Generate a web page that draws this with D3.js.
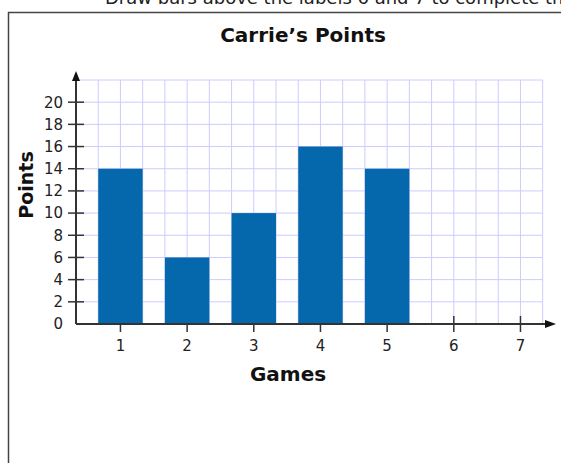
<!DOCTYPE html>
<html>
<head>
<meta charset="utf-8">
<script src="https://cdn.jsdelivr.net/npm/d3@7"></script>
<style>
  html, body { margin: 0; padding: 0; background: #fff; }
  svg { display: block; }
</style>
</head>
<body>
<script>
// Carrie's points per game (games 6 and 7 left blank for the student)
const games = [1, 2, 3, 4, 5, 6, 7];
const points = [14, 6, 10, 16, 14, null, null];
const yTicks = [2, 4, 6, 8, 10, 12, 14, 16, 18, 20];
const yLabels = [0, 2, 4, 6, 8, 10, 12, 14, 16, 18, 20];

const W = 561, H = 463;
const svg = d3.select("body").append("svg").attr("width", W).attr("height", H);
const font = "'DejaVu Sans', Verdana, sans-serif";
const axisColor = "#333";

// Instruction line above the frame (mostly scrolled out of view)
svg.append("text")
  .attr("x", 105).attr("y", 4)
  .attr("font-family", font).attr("font-size", 18).attr("fill", "#222")
  .text("Draw bars above the labels 6 and 7 to complete the graph.");

// Frame around the item
svg.append("rect")
  .attr("x", 8.5).attr("y", 12.5).attr("width", 600).attr("height", 500)
  .attr("fill", "none").attr("stroke", "#444").attr("stroke-width", 1.5);

// Scales: x works in grid columns (each game spans three columns)
const x = d3.scaleLinear().domain([0, 21]).range([76, 542.7]);
const y = d3.scaleLinear().domain([0, 22]).range([324, 80]);
const gameX = g => x(3 * g - 1);

// Grid
const grid = svg.append("g").attr("stroke", "#ccccff").attr("stroke-width", 1);
grid.selectAll("line.v").data(d3.range(1, 22)).join("line")
  .attr("x1", d => x(d)).attr("x2", d => x(d))
  .attr("y1", y(0)).attr("y2", y(22));
grid.selectAll("line.h").data(d3.range(2, 23, 2)).join("line")
  .attr("x1", x(0)).attr("x2", x(21))
  .attr("y1", d => y(d)).attr("y2", d => y(d));

// X ticks (cross the axis; bars sit over their upper half)
svg.append("g").selectAll("line").data(games).join("line")
  .attr("x1", d => gameX(d)).attr("x2", d => gameX(d))
  .attr("y1", y(0) - 8).attr("y2", y(0) + 8)
  .attr("stroke", axisColor).attr("stroke-width", 1.5);

// Bars
svg.append("g").selectAll("rect")
  .data(games.map((g, i) => ({ g, v: points[i] })).filter(d => d.v != null))
  .join("rect")
  .attr("x", d => x(3 * d.g - 2))
  .attr("width", x(2) - x(0))
  .attr("y", d => y(d.v))
  .attr("height", d => y(0) - y(d.v))
  .attr("fill", "#0568ac");

// Y ticks
svg.append("g").selectAll("line").data(yTicks).join("line")
  .attr("x1", x(0) - 8).attr("x2", x(0) + 8)
  .attr("y1", d => y(d)).attr("y2", d => y(d))
  .attr("stroke", axisColor).attr("stroke-width", 1.5);

// Axes with arrowheads
svg.append("line")
  .attr("x1", x(0)).attr("x2", x(0)).attr("y1", y(0)).attr("y2", 78)
  .attr("stroke", axisColor).attr("stroke-width", 2);
svg.append("line")
  .attr("x1", x(0)).attr("x2", 548).attr("y1", y(0)).attr("y2", y(0))
  .attr("stroke", axisColor).attr("stroke-width", 2);
svg.append("path")
  .attr("d", `M${x(0)},71 L${x(0) - 4},81 L${x(0) + 4},81 Z`)
  .attr("fill", "#111");
svg.append("path")
  .attr("d", `M556,${y(0)} L545,${y(0) - 4} L545,${y(0) + 4} Z`)
  .attr("fill", "#111");

// Tick labels
svg.append("g").selectAll("text").data(yLabels).join("text")
  .attr("x", 63).attr("y", d => y(d)).attr("dy", "0.36em")
  .attr("text-anchor", "end")
  .attr("font-family", font).attr("font-size", 15).attr("fill", "#222")
  .text(d => d);
svg.append("g").selectAll("text").data(games).join("text")
  .attr("x", d => gameX(d)).attr("y", 351)
  .attr("text-anchor", "middle")
  .attr("font-family", font).attr("font-size", 15).attr("fill", "#222")
  .text(d => d);

// Titles
svg.append("text")
  .attr("x", 303).attr("y", 42).attr("text-anchor", "middle")
  .attr("font-family", font).attr("font-size", 20).attr("font-weight", "bold")
  .attr("fill", "#111").text("Carrie’s Points");
svg.append("text")
  .attr("x", 288).attr("y", 381).attr("text-anchor", "middle")
  .attr("font-family", font).attr("font-size", 20).attr("font-weight", "bold")
  .attr("fill", "#111").text("Games");
svg.append("text")
  .attr("transform", "translate(33,185) rotate(-90)").attr("text-anchor", "middle")
  .attr("font-family", font).attr("font-size", 19).attr("font-weight", "bold")
  .attr("fill", "#111").text("Points");
</script>
</body>
</html>
